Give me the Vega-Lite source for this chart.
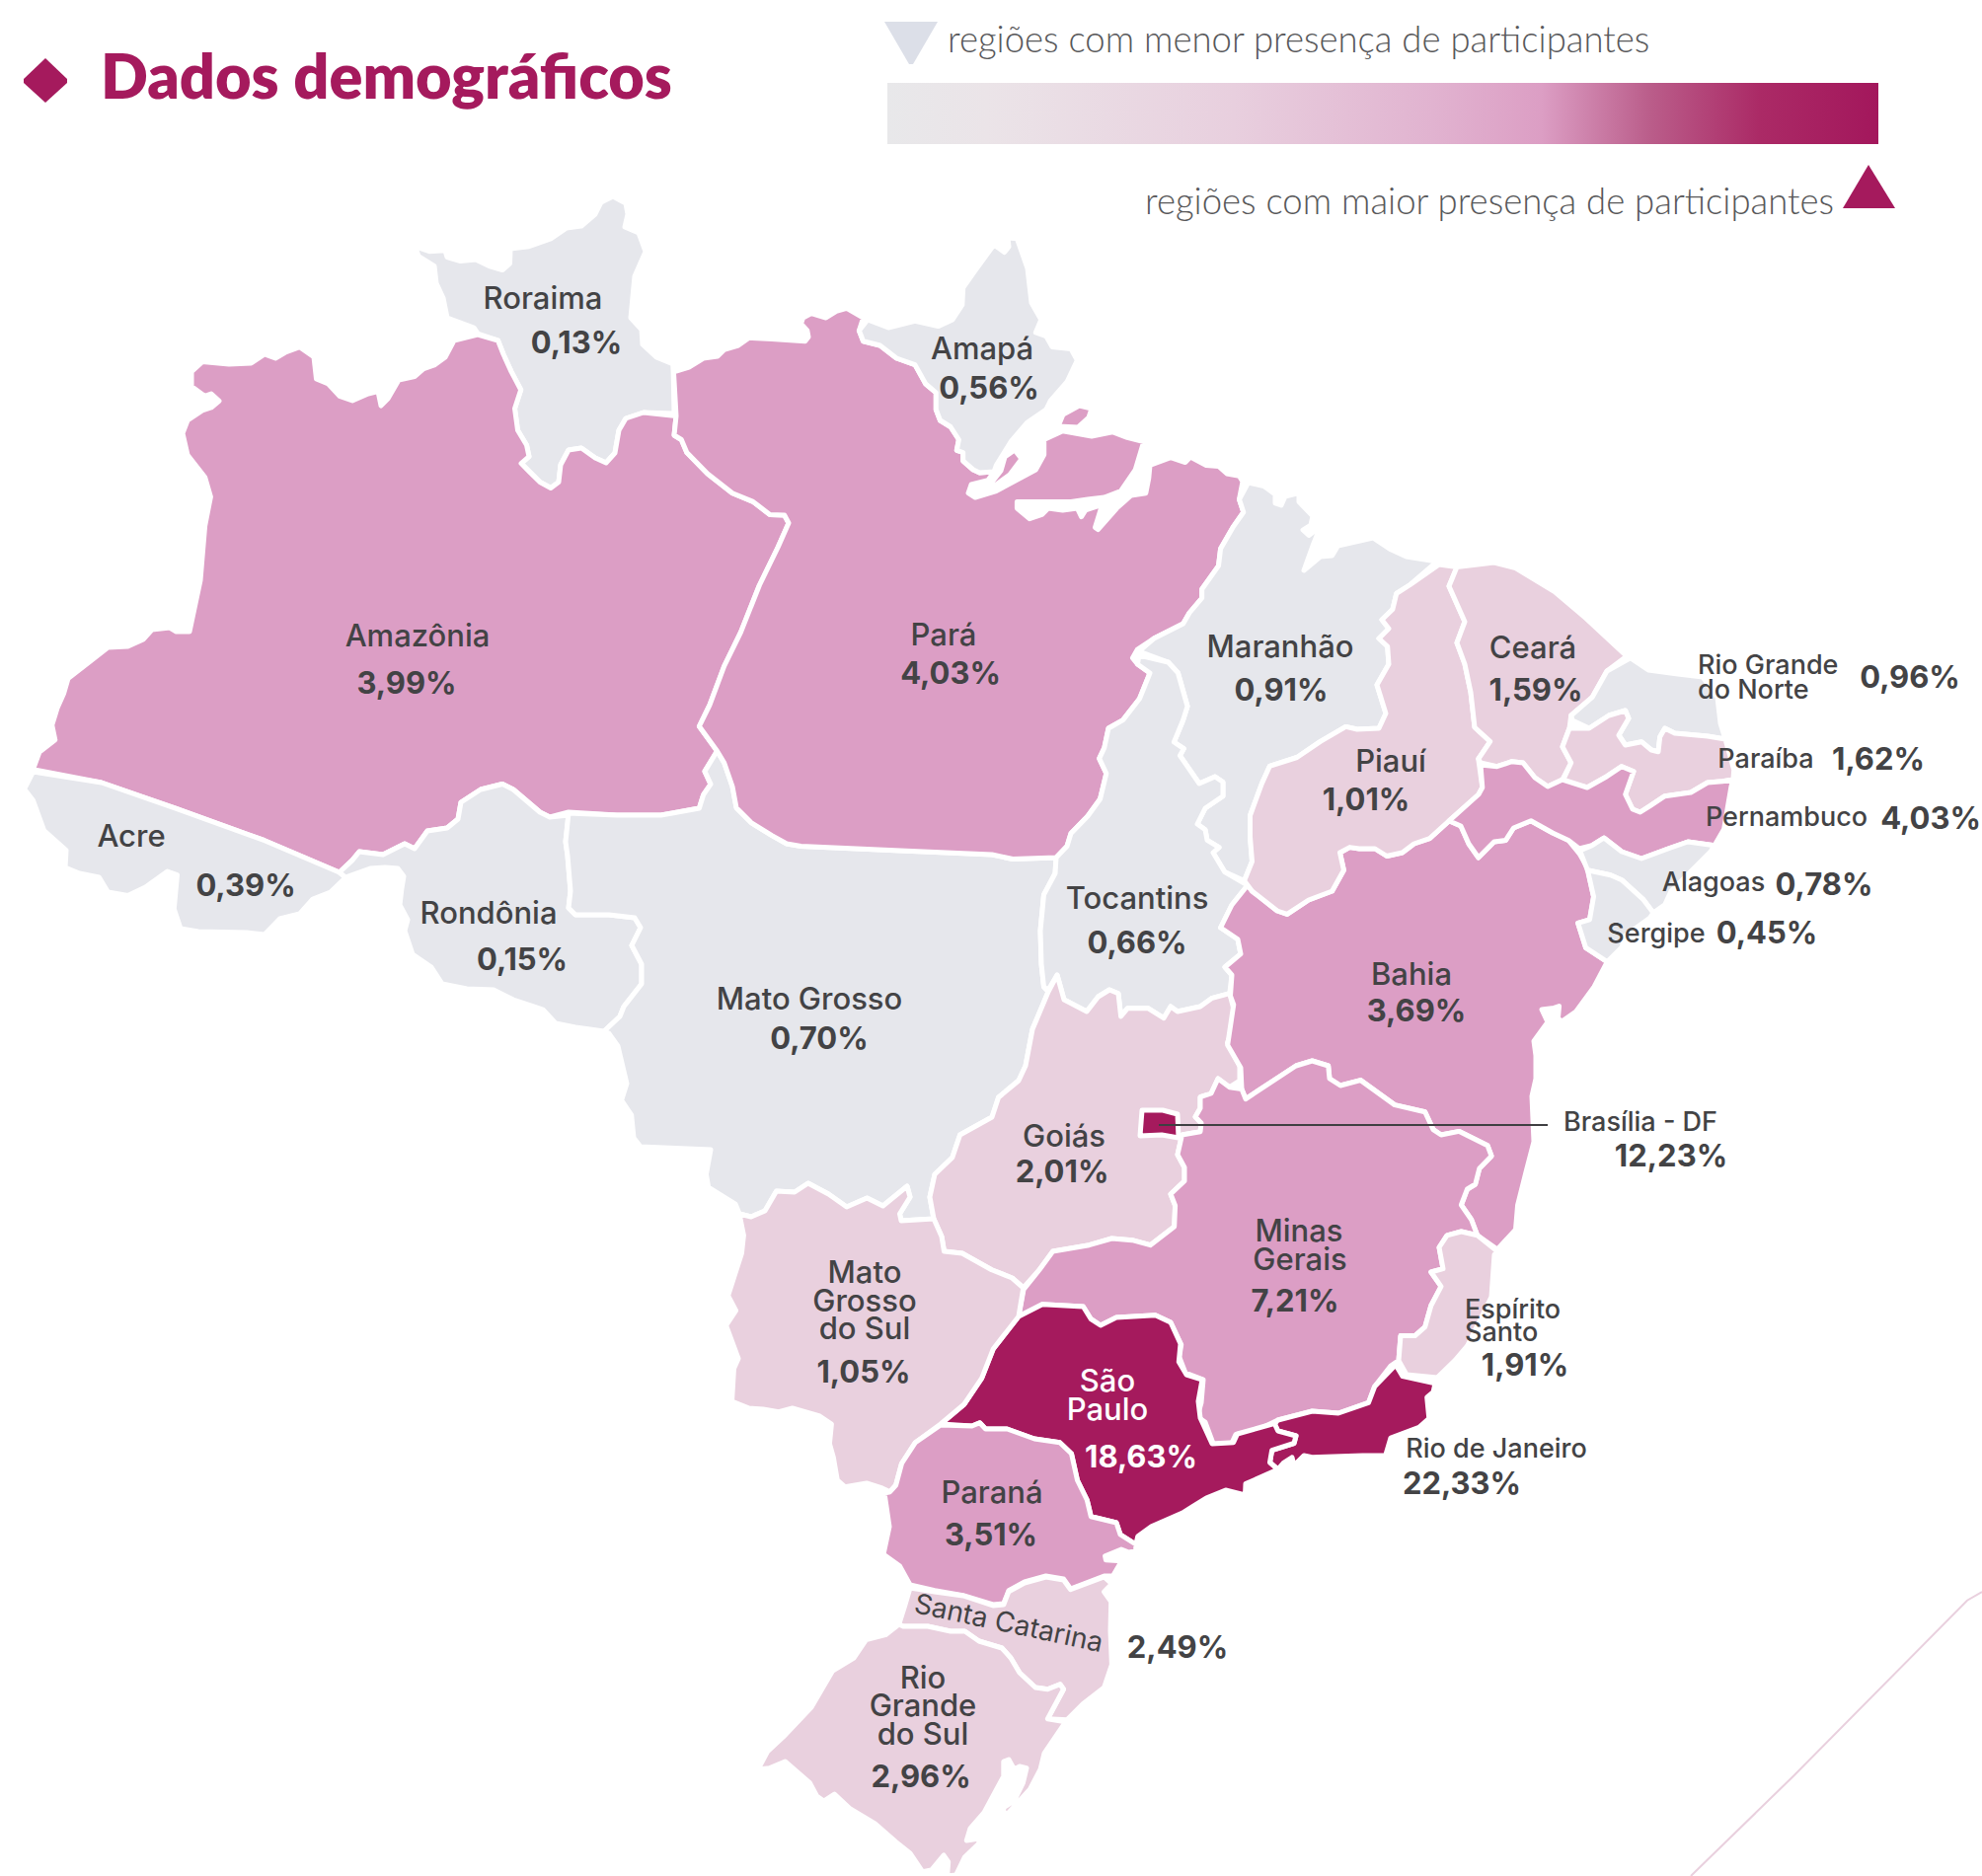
{"$schema":"https://vega.github.io/schema/vega-lite/v6.json","width":2008,"height":1901,"padding":0,"autosize":"none","background":"white","config":{"view":{"stroke":null}},"projection":{"type":"identity","scale":1,"translate":[0,0]},
"datasets":{
"names":[{"t":"Roraima","lon":550,"lat":313,"tone":"dark","kind":"large"},{"t":"Amazônia","lon":423,"lat":655,"tone":"dark","kind":"large"},{"t":"Acre","lon":133,"lat":858,"tone":"dark","kind":"large"},{"t":"Rondônia","lon":495,"lat":936,"tone":"dark","kind":"large"},{"t":"Amapá","lon":995,"lat":364,"tone":"dark","kind":"large"},{"t":"Pará","lon":956,"lat":654,"tone":"dark","kind":"large"},{"t":"Maranhão","lon":1297,"lat":666,"tone":"dark","kind":"large"},{"t":"Ceará","lon":1553,"lat":667,"tone":"dark","kind":"large"},{"t":"Piauí","lon":1409,"lat":782,"tone":"dark","kind":"large"},{"t":"Bahia","lon":1430,"lat":998,"tone":"dark","kind":"large"},{"t":"Tocantins","lon":1152,"lat":921,"tone":"dark","kind":"large"},{"t":"Mato Grosso","lon":820,"lat":1023,"tone":"dark","kind":"large"},{"t":"Goiás","lon":1078,"lat":1162,"tone":"dark","kind":"large"},{"t":"Mato","lon":876,"lat":1300,"tone":"dark","kind":"large"},{"t":"Grosso","lon":876,"lat":1329,"tone":"dark","kind":"large"},{"t":"do Sul","lon":876,"lat":1357,"tone":"dark","kind":"large"},{"t":"Minas","lon":1316,"lat":1258,"tone":"dark","kind":"large"},{"t":"Gerais","lon":1317,"lat":1287,"tone":"dark","kind":"large"},{"t":"São","lon":1122,"lat":1410,"tone":"light","kind":"large"},{"t":"Paulo","lon":1122,"lat":1439,"tone":"light","kind":"large"},{"t":"Paraná","lon":1005,"lat":1523,"tone":"dark","kind":"large"},{"t":"Rio","lon":935,"lat":1711,"tone":"dark","kind":"large"},{"t":"Grande","lon":935,"lat":1739,"tone":"dark","kind":"large"},{"t":"do Sul","lon":935,"lat":1768,"tone":"dark","kind":"large"},{"t":"Paraíba","lon":1789,"lat":778,"tone":"dark","kind":"small"},{"t":"Pernambuco","lon":1810,"lat":837,"tone":"dark","kind":"small"},{"t":"Alagoas","lon":1736,"lat":903,"tone":"dark","kind":"small"},{"t":"Sergipe","lon":1678,"lat":955,"tone":"dark","kind":"small"},{"t":"Brasília - DF","lon":1662,"lat":1146,"tone":"dark","kind":"small"},{"t":"Rio de Janeiro","lon":1516,"lat":1477,"tone":"dark","kind":"small"}],
"leftNames":[{"t":"Rio Grande","lon":1720,"lat":683},{"t":"do Norte","lon":1720,"lat":708},{"t":"Espírito","lon":1484,"lat":1336},{"t":"Santo","lon":1484,"lat":1359}],
"tilted":[{"t":"Santa Catarina","lon":1020,"lat":1654}],
"percents":[{"t":"0,13%","lon":584,"lat":358,"tone":"dark"},{"t":"3,99%","lon":412,"lat":703,"tone":"dark"},{"t":"0,39%","lon":249,"lat":908,"tone":"dark"},{"t":"0,15%","lon":529,"lat":983,"tone":"dark"},{"t":"0,56%","lon":1002,"lat":404,"tone":"dark"},{"t":"4,03%","lon":963,"lat":693,"tone":"dark"},{"t":"0,91%","lon":1298,"lat":710,"tone":"dark"},{"t":"1,59%","lon":1556,"lat":710,"tone":"dark"},{"t":"1,01%","lon":1384,"lat":821,"tone":"dark"},{"t":"0,66%","lon":1152,"lat":966,"tone":"dark"},{"t":"0,70%","lon":830,"lat":1063,"tone":"dark"},{"t":"2,01%","lon":1076,"lat":1198,"tone":"dark"},{"t":"1,05%","lon":875,"lat":1401,"tone":"dark"},{"t":"18,63%","lon":1156,"lat":1487,"tone":"light"},{"t":"3,51%","lon":1004,"lat":1566,"tone":"dark"},{"t":"3,69%","lon":1435,"lat":1035,"tone":"dark"},{"t":"7,21%","lon":1312,"lat":1329,"tone":"dark"},{"t":"12,23%","lon":1693,"lat":1182,"tone":"dark"},{"t":"1,91%","lon":1545,"lat":1394,"tone":"dark"},{"t":"22,33%","lon":1481,"lat":1514,"tone":"dark"},{"t":"2,49%","lon":1193,"lat":1680,"tone":"dark"},{"t":"2,96%","lon":933,"lat":1811,"tone":"dark"},{"t":"0,96%","lon":1935,"lat":697,"tone":"dark"},{"t":"1,62%","lon":1903,"lat":780,"tone":"dark"},{"t":"4,03%","lon":1956,"lat":840,"tone":"dark"},{"t":"0,78%","lon":1848,"lat":907,"tone":"dark"},{"t":"0,45%","lon":1790,"lat":956,"tone":"dark"}]
},
"layer":[
{"data":{"values":[{"type":"Feature","properties":{"part":"legenda"},"geometry":{"type":"Polygon","coordinates":[[[899,84],[1903,84],[1903,146],[899,146],[899,84]]]}}]},"mark":{"type":"geoshape","strokeWidth":0,"fill":{"gradient":"linear","x1":0,"x2":1,"y1":0,"y2":0,"stops":[{"offset":0,"color":"#e8e8ea"},{"offset":0.1,"color":"#ebe4e8"},{"offset":0.35,"color":"#e8cfde"},{"offset":0.55,"color":"#e1b3d0"},{"offset":0.66,"color":"#dc9ec4"},{"offset":0.77,"color":"#ba5d8a"},{"offset":0.88,"color":"#ab2a66"},{"offset":1,"color":"#a3175c"}]}},"encoding":{}},
{"data":{"values":[
{"type":"Feature","properties":{"part":"menor"},"geometry":{"type":"Polygon","coordinates":[[[896,22],[950,22],[925,65],[921,65],[896,22]]]}},
{"type":"Feature","properties":{"part":"maior"},"geometry":{"type":"Polygon","coordinates":[[[1893,167],[1920,211],[1867,211],[1893,167]]]}},
{"type":"Feature","properties":{"part":"titulo"},"geometry":{"type":"Polygon","coordinates":[[[46,59],[68,80],[68,84],[46,104],[24,84],[24,80],[46,59]]]}}
]},"mark":{"type":"geoshape","strokeWidth":0},"encoding":{"color":{"field":"properties.part","type":"nominal","legend":null,"scale":{"domain":["menor","maior","titulo"],"range":["#dcdfe8","#a51a5d","#a51a5d"]}}}},
{"data":{"values":[{"type":"Feature","properties":{"part":"detalhe"},"geometry":{"type":"LineString","coordinates":[[2008,1613],[1993,1621.7],[1816.7,1800],[1713,1901]]}}]},"mark":{"type":"geoshape","filled":false,"stroke":"#e9d0de","strokeWidth":2},"encoding":{}},
{"data":{"values":[
{"type":"Feature","properties":{"state":"Roraima","percent":0.13},"geometry":{"type":"Polygon","coordinates":[[[420.5,249.7],[435,254.7],[451,253.7],[453,260.6],[466.5,264.6],[482,263],[495.5,269.6],[509,273.6],[516.5,267],[517,252],[536,249.7],[558,242],[574,231],[589,229],[603,217],[609,205],[621,199],[634,206],[636,217],[633,230],[647,236],[654,255],[643,280],[639,322],[650,334],[651,349],[665,362],[682,369],[683,419],[652,418],[634,424],[627,436],[623,459],[614,469],[603,464],[589,454],[576,456],[568,471],[566,488.5],[558,494.5],[547,488.5],[536,477.6],[528,469.6],[536,462.6],[533.5,451],[524.5,436],[521.5,414],[527.7,395],[518,376.6],[510,359],[504.5,345],[484,338],[480,332],[453,322],[449,302],[442,287],[440,269.6],[424,259.6],[420.5,249.7]]]}},
{"type":"Feature","properties":{"state":"Amazonas","percent":3.99},"geometry":{"type":"Polygon","coordinates":[[[484,339],[460,345],[451,362],[440,370],[428.6,374],[420,381.5],[404,385],[393,404],[386,411],[383,396.5],[373,399],[357,406],[344,401.4],[332.6,389],[320.5,384],[318,361.6],[303.6,351.7],[290,356.7],[279,363],[268,359],[254.5,368],[232,369],[205,366.6],[194,376.6],[194,391.5],[207.6,401.4],[214,399],[222,406.4],[214,413],[205,416],[190,426],[185,439],[190,461],[207.6,483.5],[213.4,503.4],[207.6,533],[203,588],[192,640],[178.6,640],[172,636],[154,638],[145,648],[129.5,655],[109.4,656],[91.5,670],[69,687.5],[64.7,702.4],[58,717.4],[52.7,734.8],[55.8,749.7],[40,762],[33.5,779.6],[102.7,793],[178.6,819.4],[268,851.7],[343.8,884],[357,871.6],[364,863],[388,866],[410,855],[420,860],[433,842],[453,839],[464,830],[467,813],[487,800],[509,794.5],[520,800],[547,823],[557,828],[576,823],[625,826],[669.6,826],[681,824],[708.4,819],[712.6,805.4],[720,794.6],[714,781.6],[726.5,761],[708.4,736],[719,714.4],[733.7,675],[750.5,640.6],[769.4,593],[788.4,554],[799,530],[794.7,522],[780,521.4],[763,508.4],[742,499.7],[716.8,480],[695.8,458.5],[690.3,445.5],[683,441],[685,421.6],[652,418],[634,424],[627,436],[623,459],[614,469],[603,464],[589,454],[576,456],[568,471],[566,488.5],[558,494.5],[547,488.5],[536,477.6],[528,469.6],[536,462.6],[533.5,451],[524.5,436],[521.5,414],[527.7,395],[518,376.6],[510,359],[504.5,345],[484,339]]]}},
{"type":"Feature","properties":{"state":"Acre","percent":0.39},"geometry":{"type":"Polygon","coordinates":[[[33.5,782],[24.6,799.5],[33.5,811],[44.6,841.7],[67,861.6],[66,879],[80.4,885],[100.4,889],[109.4,904],[129.5,907.4],[147.3,899],[169.6,883],[179.5,886.5],[176.3,921],[183,941],[201,944],[250,945],[268,947],[283.5,931],[303.6,926],[317,911],[334.8,904],[350.4,889],[343.8,884],[268,851.7],[178.6,819.4],[102.7,793],[33.5,782]]]}},
{"type":"Feature","properties":{"state":"Rondônia","percent":0.15},"geometry":{"type":"Polygon","coordinates":[[[350,889],[375,880],[390,879],[403,880],[409,888],[407,900],[405,917],[413,932],[410,943],[418,967],[437,980],[448,997],[473,1002],[500,1003],[520,1013],[550,1023],[563,1037],[583,1041],[612,1045],[628,1030],[632,1020],[650,997],[650,977],[640,958],[649,940],[643,930],[617,927],[583,927],[576,920],[578,903],[575,867],[573,853],[576,826],[557,828],[547,823],[520,800],[509,794.5],[487,800],[467,813],[464,830],[453,839],[433,842],[420,860],[410,855],[388,866],[364,863],[357,871.6],[343.8,884],[350,889]]]}},
{"type":"Feature","properties":{"state":"Mato Grosso","percent":0.70},"geometry":{"type":"Polygon","coordinates":[[[576,824],[625,826],[669.6,826],[681,824],[708.4,819],[712.6,805.4],[720,794.6],[714,781.6],[726.5,761],[733.7,773],[742,797],[746,818.4],[761,833.6],[782,846.6],[797,855],[811.5,857.5],[912.5,862],[1005,866],[1026,870.5],[1070,869],[1069,885],[1057.5,906.7],[1054,943],[1055,977],[1057.5,1000],[1062,1005],[1046,1043],[1039,1080],[1032,1095],[1011.6,1112],[1005,1132],[972.6,1150],[964.8,1173],[947,1190],[942,1213],[946,1235],[913,1237],[911.5,1230],[922,1213],[919,1202],[894.5,1222],[878.4,1214],[857.8,1223],[839.4,1210],[818.7,1199],[805,1208],[786.6,1207],[775,1227],[761,1233],[749,1230],[745,1220],[717.7,1203],[715.4,1190],[720,1165],[649,1162],[642,1153],[639.7,1130],[629.6,1115],[635,1098],[626,1060],[616.7,1047],[612,1045],[628,1030],[632,1020],[650,997],[650,977],[640,958],[649,940],[643,930],[617,927],[583,927],[576,920],[578,903],[575,867],[573,853],[576,824]]]}},
{"type":"Feature","properties":{"state":"Pará","percent":4.03},"geometry":{"type":"MultiPolygon","coordinates":[[[[682,369],[685,376],[698,372],[712.6,363],[727,361],[733.6,354.4],[748,350],[759,342.3],[782,343.6],[815.7,345.8],[819,341.4],[817.8,335],[811.5,328],[813.6,322],[822,317.6],[836.8,322],[847.3,315.4],[857.8,312.4],[874.6,322],[870.4,335],[874.6,345.8],[891.5,350],[908.3,363],[927,369.6],[937.8,389],[948.3,397.8],[948.3,415],[952.5,426],[963,432.5],[971.4,445.5],[969.3,456.3],[975.7,458.5],[975.7,467],[986,476],[992.5,479],[1007,478],[1001,486.7],[984,491],[981,499.7],[988,504],[1009.3,497.5],[1049.3,476],[1057.7,460.7],[1057.7,445.5],[1076.7,436.8],[1106,442],[1127,437.7],[1142,443.3],[1158.7,447.7],[1150.3,475.8],[1135.6,497.5],[1118.8,504],[1102,506],[1085,508.4],[1064,508.4],[1030.4,508.4],[1030.4,515],[1043,525.7],[1055.6,521.4],[1062,515],[1076.7,517],[1091.4,515],[1095.6,523.6],[1099.8,517],[1116.6,511.4],[1109.5,534.4],[1112.4,536.6],[1131.4,515],[1146,502],[1160.8,499.7],[1163.8,484.5],[1165,471.5],[1186,463.7],[1200.8,468.5],[1206,463],[1222,471.5],[1234.5,472.4],[1243,480],[1255.5,482.4],[1259,488],[1255.5,506],[1259.8,519],[1249,534.4],[1236.6,556],[1234.5,573.4],[1217.7,597],[1217.7,606],[1205,621],[1198.7,632],[1169,647],[1152.4,658],[1147.4,666.7],[1152.4,673],[1165,682],[1154.5,708],[1137.7,729.6],[1123,738],[1118.8,757.7],[1113.7,768.6],[1120.8,783.8],[1114.5,809.8],[1102,827],[1085,844.5],[1081,857.5],[1070,869],[1026,870.5],[1005,866],[912.5,862],[811.5,857.5],[797,855],[782,846.6],[761,833.6],[746,818.4],[742,797],[733.7,773],[726.5,761],[708.4,736],[719,714.4],[733.7,675],[750.5,640.6],[769.4,593],[788.4,554],[799,530],[794.7,522],[780,521.4],[763,508.4],[742,499.7],[716.8,480],[695.8,458.5],[690.3,445.5],[683,441],[685,421.6],[682,369]]],[[[1072,432],[1077,420],[1093.5,411],[1106,414],[1103,423],[1092,433],[1072,432]]],[[[1003,491],[1014,477],[1018,463],[1028,456],[1035,465],[1023,481],[1008,492],[1003,491]]]]}},
{"type":"Feature","properties":{"state":"Amapá","percent":0.56},"geometry":{"type":"Polygon","coordinates":[[[879,324],[900,332],[927,325.4],[950.4,330.6],[965,324],[974.8,309],[975.7,291.6],[988,274],[1007,248],[1017.7,255.6],[1022,250],[1021,241],[1030.4,241.7],[1041,272],[1045,306.7],[1054.8,324],[1049.3,337],[1059.8,340.6],[1066,351.4],[1085,353.6],[1091.4,365],[1081,387],[1064,406.5],[1059.8,415],[1040.9,428],[1024,447.7],[1009.3,471.5],[1007,478],[992.5,479],[986,476],[975.7,467],[975.7,458.5],[969.3,456.3],[971.4,445.5],[963,432.5],[952.5,426],[948.3,415],[948.3,397.8],[937.8,389],[927,369.6],[908.3,363],[891.5,350],[874.6,345.8],[870.4,335],[879,324]]]}},
{"type":"Feature","properties":{"state":"Maranhão","percent":0.91},"geometry":{"type":"Polygon","coordinates":[[[1264.6,489],[1280.4,492.5],[1292,501],[1292,510],[1298,512],[1302,503],[1316,499.6],[1316,508.6],[1330,523],[1328,532],[1320,537],[1326,542.5],[1337.7,533.6],[1330,553],[1321,578],[1337.7,564],[1349.6,563],[1355.5,553],[1391,545],[1409,556.8],[1424.7,564],[1456,569],[1428.7,592.5],[1414.8,601.4],[1410.9,617.5],[1400,628],[1407,637],[1397,647],[1405.7,655],[1407,673],[1395,694],[1404,723],[1397,738],[1375,739],[1363.4,736.4],[1337.7,751.4],[1314,767.5],[1286.3,776.4],[1278.4,794],[1266.5,826.4],[1266.5,848],[1268.5,873],[1260.6,892.5],[1240.8,883.6],[1229,864],[1235,858.6],[1223,851.4],[1221,840.7],[1213,835],[1221,819],[1239,806.8],[1239,792.5],[1231,787],[1215,794],[1195.4,765.7],[1199.3,758.6],[1189.4,752],[1198.5,730],[1203,715.7],[1193.4,681.8],[1183.5,671],[1153.8,660],[1169,647],[1198.7,632],[1205,621],[1217.7,606],[1217.7,597],[1234.5,573.4],[1236.6,556],[1249,534.4],[1259.8,519],[1255.5,506],[1264.6,489]]]}},
{"type":"Feature","properties":{"state":"Tocantins","percent":0.66},"geometry":{"type":"Polygon","coordinates":[[[1154,664],[1183.5,671],[1193.4,681.8],[1203,715.7],[1198.5,730],[1189.4,752],[1199.3,758.6],[1195.4,765.7],[1215,794],[1231,787],[1239,792.5],[1239,806.8],[1221,819],[1213,835],[1221,840.7],[1223,851.4],[1235,858.6],[1229,864],[1240.8,883.6],[1264,897],[1248,917],[1236.6,940],[1254,951.7],[1257,966.7],[1241,980],[1248,988],[1245.8,1006.7],[1227.4,1011.7],[1216,1020],[1193,1025],[1186,1020],[1179,1031.7],[1163,1021.7],[1142.4,1021.7],[1135.6,1030],[1133,1006.7],[1124,1003],[1112.6,1010],[1101,1025],[1078,1013],[1071,988],[1062,1003],[1057.5,1000],[1055,977],[1054,943],[1057.5,906.7],[1069,885],[1070,869],[1081,857.5],[1085,844.5],[1102,827],[1114.5,809.8],[1120.8,783.8],[1113.7,768.6],[1118.8,757.7],[1123,738],[1137.7,729.6],[1154.5,708],[1165,682],[1152.4,673],[1154,664]]]}},
{"type":"Feature","properties":{"state":"Goiás","percent":2.01},"geometry":{"type":"Polygon","coordinates":[[[1062,1005],[1071,988],[1078,1013],[1101,1025],[1112.6,1010],[1124,1003],[1133,1006.7],[1135.6,1030],[1142.4,1021.7],[1163,1021.7],[1179,1031.7],[1186,1020],[1193,1025],[1216,1020],[1227.4,1011.7],[1245.8,1006.7],[1252.6,1033],[1243.5,1056.7],[1256,1080],[1256,1095],[1245.8,1101.7],[1234,1093],[1227,1108],[1216,1111.7],[1216,1123],[1211,1131.7],[1217,1138],[1216,1146.7],[1197.5,1150],[1193,1170],[1200,1183],[1200,1196.7],[1186,1210],[1190.6,1221.7],[1189.7,1243],[1165.4,1261.7],[1147,1256.7],[1126.4,1255],[1103.4,1261.7],[1066.7,1268],[1053,1286.7],[1036.8,1305],[1025.4,1295],[1004.7,1286.7],[974.8,1270],[956.5,1268],[954,1253],[946,1235],[942,1213],[947,1190],[964.8,1173],[972.6,1150],[1005,1132],[1011.6,1112],[1032,1095],[1039,1080],[1046,1043],[1062,1005]]]}},
{"type":"Feature","properties":{"state":"Bahia","percent":3.69},"geometry":{"type":"Polygon","coordinates":[[[1264,897],[1268.5,903],[1294,923],[1304,926.4],[1325.8,912],[1349.6,903],[1361.4,881.8],[1357.5,864],[1367.4,858.6],[1377,860],[1393,860],[1405,867.5],[1420.7,864],[1432.6,855],[1448.4,849.6],[1468,831.8],[1480,837],[1488,855],[1497.8,869],[1513.7,853],[1525.5,851.4],[1533.4,839],[1551,831.8],[1573,844],[1589,851.4],[1600.6,865.7],[1608.6,880],[1610.5,890.7],[1614.5,908.6],[1610.5,931.8],[1598.7,935.4],[1606.6,960.4],[1628.3,974.6],[1615,1000],[1596.7,1025],[1582.4,1035],[1578.4,1032],[1579.6,1019.6],[1574.3,1021.4],[1562,1023],[1568,1035.7],[1554,1055],[1556,1069.6],[1556,1093],[1552,1110.7],[1554,1157],[1545.7,1189],[1537.6,1221],[1535.5,1246],[1517,1266],[1496.7,1251.8],[1490.6,1235.7],[1480.4,1221],[1486.5,1205],[1494.7,1200],[1498.8,1184],[1511,1171.4],[1507,1160.7],[1478.4,1146.4],[1460,1150],[1452,1144.6],[1443.7,1126.8],[1413,1119.6],[1378.4,1094.6],[1358,1100],[1347,1093],[1345.7,1080],[1329.4,1075],[1313,1080],[1262,1113.6],[1258,1103.6],[1257,1082],[1243.7,1059],[1249.8,1018],[1246.5,1009],[1248,988],[1241,980],[1257,966.7],[1254,951.7],[1236.6,940],[1248,917],[1264,897]]]}},
{"type":"Feature","properties":{"state":"Piauí","percent":1.01},"geometry":{"type":"Polygon","coordinates":[[[1458,572],[1476,574.6],[1468,594],[1484,630],[1476,651.4],[1484,673],[1490,701.4],[1494,737],[1509.7,751.4],[1497.8,769],[1501.8,798],[1498,805],[1468,831.8],[1448.4,849.6],[1432.6,855],[1420.7,864],[1405,867.5],[1393,860],[1377,860],[1367.4,858.6],[1357.5,864],[1361.4,881.8],[1349.6,903],[1325.8,912],[1304,926.4],[1294,923],[1268.5,903],[1260.6,892.5],[1268.5,873],[1266.5,848],[1266.5,826.4],[1278.4,794],[1286.3,776.4],[1314,767.5],[1337.7,751.4],[1363.4,736.4],[1375,739],[1397,738],[1404,723],[1395,694],[1407,673],[1405.7,655],[1397,647],[1407,637],[1400,628],[1410.9,617.5],[1414.8,601.4],[1428.7,592.5],[1458,572]]]}},
{"type":"Feature","properties":{"state":"Ceará","percent":1.59},"geometry":{"type":"Polygon","coordinates":[[[1476,574.6],[1513.7,570],[1535.4,575.7],[1575,599.6],[1606.6,626.4],[1648,665],[1628,680],[1613,706.7],[1591.7,725],[1590,738],[1583,756.7],[1591.7,773],[1583,790],[1568,797],[1555,788],[1543,773],[1531.7,771.7],[1516.7,776.7],[1500,773],[1497.8,769],[1509.7,751.4],[1494,737],[1490,701.4],[1484,673],[1476,651.4],[1484,630],[1468,594],[1476,574.6]]]}},
{"type":"Feature","properties":{"state":"Rio Grande do Norte","percent":0.96},"geometry":{"type":"Polygon","coordinates":[[[1651.7,666.7],[1670,679],[1700,683],[1725,686],[1740,706.7],[1743,733],[1748,749],[1730,746],[1696.7,743],[1686.7,738],[1681.7,746.7],[1680,761.7],[1673,760],[1663,751.7],[1646.7,755],[1640,745],[1650,728],[1646.7,720],[1630,725],[1610,738],[1593,730],[1591.7,725],[1613,706.7],[1628,680],[1651.7,666.7]]]}},
{"type":"Feature","properties":{"state":"Paraíba","percent":1.62},"geometry":{"type":"Polygon","coordinates":[[[1590,738],[1610,738],[1630,725],[1646.7,720],[1650,728],[1640,745],[1646.7,755],[1663,751.7],[1673,760],[1680,761.7],[1681.7,746.7],[1686.7,738],[1696.7,743],[1730,746],[1748,749],[1756.7,780],[1756,790],[1745,791.7],[1730,793],[1713,803],[1686.7,806.7],[1671.7,816.7],[1661.7,823],[1654,820],[1646.7,805],[1655,781.7],[1643,776.7],[1628,786.7],[1608,798],[1583,791.7],[1591.7,773],[1583,756.7],[1590,738]]]}},
{"type":"Feature","properties":{"state":"Pernambuco","percent":4.03},"geometry":{"type":"Polygon","coordinates":[[[1500,775],[1516.7,776.7],[1531.7,771.7],[1543,773],[1555,788],[1568,797],[1583,790],[1608,798],[1628,786.7],[1643,776.7],[1655,781.7],[1646.7,805],[1654,820],[1661.7,823],[1671.7,816.7],[1686.7,806.7],[1713,803],[1730,793],[1745,791.7],[1756,790],[1754,796.7],[1750,820],[1746.7,840],[1737,856.7],[1710,853],[1690,860],[1663,870],[1643,863],[1625,849],[1613,856.7],[1600,860],[1589,851.4],[1573,844],[1551,831.8],[1533.4,839],[1525.5,851.4],[1513.7,853],[1497.8,869],[1488,855],[1480,837],[1468,831.8],[1498,805],[1501.8,798],[1500,775]]]}},
{"type":"Feature","properties":{"state":"Alagoas","percent":0.78},"geometry":{"type":"Polygon","coordinates":[[[1600.6,862],[1613,856.7],[1625,849],[1643,863],[1663,870],[1690,860],[1710,853],[1737,856.7],[1733,863],[1713,883],[1693,903],[1686.7,916.7],[1675,925],[1665,911.7],[1643,891.7],[1631.7,886.7],[1608.3,881.7],[1600.6,862]]]}},
{"type":"Feature","properties":{"state":"Sergipe","percent":0.45},"geometry":{"type":"Polygon","coordinates":[[[1608.3,881.7],[1631.7,886.7],[1643,891.7],[1665,911.7],[1675,925],[1671.7,930],[1646.7,948],[1643,960],[1628.3,974.6],[1606.6,960.4],[1598.7,935.4],[1610.5,931.8],[1614.5,908.6],[1610.5,890.7],[1608.3,881.7]]]}},
{"type":"Feature","properties":{"state":"Minas Gerais","percent":7.21},"geometry":{"type":"Polygon","coordinates":[[[1258,1103.6],[1262,1113.6],[1313,1080],[1329.4,1075],[1345.7,1080],[1347,1093],[1358,1100],[1378.4,1094.6],[1413,1119.6],[1443.7,1126.8],[1452,1144.6],[1460,1150],[1478.4,1146.4],[1507,1160.7],[1511,1171.4],[1498.8,1184],[1494.7,1200],[1486.5,1205],[1480.4,1221],[1490.6,1235.7],[1496.7,1251.8],[1480.4,1248],[1466,1251.8],[1458,1264],[1462,1285.7],[1449.8,1289],[1460,1303.6],[1449.8,1323],[1443.7,1344.6],[1433.5,1353.6],[1419,1353.6],[1417,1378.6],[1409,1384],[1392.7,1405],[1386.5,1421.4],[1356,1432],[1329.4,1430],[1294.7,1439],[1266,1453],[1252,1453.6],[1247.8,1462.5],[1229.4,1463.6],[1221,1441],[1213,1435.7],[1217,1421.4],[1219,1398],[1200.8,1391],[1194.7,1375],[1196.7,1362.5],[1186,1340],[1170.5,1332.7],[1131,1335],[1115,1343],[1105.3,1336.7],[1097.4,1324],[1056,1321.7],[1032,1334],[1037,1306.7],[1053,1286.7],[1066.7,1268],[1103.4,1261.7],[1126.4,1255],[1147,1256.7],[1165.4,1261.7],[1189.7,1243],[1190.6,1221.7],[1186,1210],[1200,1196.7],[1200,1183],[1193,1170],[1197.5,1150],[1216,1146.7],[1217,1138],[1211,1131.7],[1216,1123],[1216,1111.7],[1227,1108],[1234,1093],[1245.8,1101.7],[1258,1103.6]]]}},
{"type":"Feature","properties":{"state":"Espírito Santo","percent":1.91},"geometry":{"type":"Polygon","coordinates":[[[1480.4,1248],[1496.7,1251.8],[1517,1268],[1514,1271.4],[1511,1314],[1486.5,1364],[1474,1378.6],[1456,1396],[1425,1393],[1417,1378.6],[1419,1353.6],[1433.5,1353.6],[1443.7,1344.6],[1449.8,1323],[1460,1303.6],[1449.8,1289],[1462,1285.7],[1458,1264],[1466,1251.8],[1480.4,1248]]]}},
{"type":"Feature","properties":{"state":"Rio de Janeiro","percent":22.33},"geometry":{"type":"Polygon","coordinates":[[[1414,1383],[1421,1394.6],[1454,1401.8],[1452,1410.7],[1445.7,1416],[1447.8,1437.5],[1437.6,1446.4],[1409,1457],[1403.7,1475],[1380.4,1475],[1329.4,1476.8],[1321,1475],[1311,1485],[1309,1476.8],[1300.8,1482],[1294.7,1489],[1286.5,1482],[1288.6,1469.6],[1311,1462.5],[1313,1455],[1294.7,1450],[1291.4,1443],[1294.7,1439],[1329.4,1430],[1356,1432],[1386.5,1421.4],[1392.7,1405],[1414,1383]]]}},
{"type":"Feature","properties":{"state":"São Paulo","percent":18.63},"geometry":{"type":"Polygon","coordinates":[[[1032,1334],[1056,1321.7],[1097.4,1324],[1105.3,1336.7],[1115,1343],[1131,1335],[1170.5,1332.7],[1186,1340],[1196,1361.7],[1194.3,1380],[1202,1393],[1218,1398],[1214,1420],[1216,1436.7],[1228,1463],[1249.6,1461.7],[1253.6,1453],[1289,1443],[1291.4,1443],[1294.7,1450],[1313,1455],[1311,1462.5],[1288.6,1469.6],[1286.5,1482],[1294.7,1489],[1262,1503.6],[1261.5,1515],[1241.7,1510],[1222,1518],[1198,1533],[1166.6,1546.7],[1152.8,1556.7],[1150.8,1565],[1135,1555],[1131,1543],[1105.3,1536.7],[1101.3,1520],[1091.5,1500],[1085.5,1473],[1073.7,1461.7],[1048,1458],[1020.3,1448],[998.5,1448],[992.6,1441.7],[984.7,1445],[953,1443],[976.8,1423],[994.6,1396.7],[1006.4,1366.7],[1032,1334]]]}},
{"type":"Feature","properties":{"state":"Mato Grosso do Sul","percent":1.05},"geometry":{"type":"Polygon","coordinates":[[[749,1230],[761,1233],[775,1227],[786.6,1207],[805,1208],[818.7,1199],[839.4,1210],[857.8,1223],[878.4,1214],[894.5,1222],[919,1202],[922,1213],[911.5,1230],[913,1237],[946,1235],[954,1253],[956.5,1268],[974.8,1270],[1004.7,1286.7],[1025.4,1295],[1036.8,1305],[1032,1334],[1006.4,1366.7],[994.6,1396.7],[976.8,1423],[953,1443],[927.4,1461.7],[913.5,1483],[907.6,1505],[901.7,1511.7],[893.7,1508],[878,1503],[856,1506.7],[848.3,1500],[844.3,1476.7],[840.4,1463],[842.4,1443],[830.5,1435],[802.8,1427],[789,1430.7],[773,1428],[759,1427],[741.5,1420],[743.5,1386.7],[748,1376.7],[735.6,1343],[745.5,1328],[737.6,1313],[751.4,1270],[753.4,1251.7],[749,1230]]]}},
{"type":"Feature","properties":{"state":"Paraná","percent":3.51},"geometry":{"type":"Polygon","coordinates":[[[953,1444],[984.7,1445],[992.6,1441.7],[998.5,1448],[1020.3,1448],[1048,1458],[1073.7,1461.7],[1085.5,1473],[1091.5,1500],[1101.3,1520],[1105.3,1536.7],[1131,1543],[1135,1555],[1150.8,1565],[1150.7,1571.7],[1143.6,1573],[1136,1570],[1119.6,1576.7],[1120.4,1580.7],[1136.4,1581.7],[1127.5,1597],[1118.6,1597],[1084.6,1610],[1077.5,1600],[1059.6,1597],[1038,1603],[1022,1611.7],[1016.8,1625],[1006,1626],[975.7,1616.7],[947,1611.7],[922,1606],[911.4,1586.7],[895,1575],[901,1547],[896,1513],[901.7,1511.7],[907.6,1505],[913.5,1483],[927.4,1461.7],[953,1444]]]}},
{"type":"Feature","properties":{"state":"Santa Catarina","percent":2.49},"geometry":{"type":"Polygon","coordinates":[[[922,1609],[947,1613],[975.7,1617],[1006,1627],[1016.8,1626],[1022,1612.7],[1038,1604],[1059.6,1598],[1077.5,1601],[1084.6,1610.7],[1118.6,1598],[1126.4,1605],[1118.6,1613],[1125.7,1623],[1125,1653],[1126.4,1686.7],[1118.6,1710],[1097,1726.7],[1081,1742.7],[1061.4,1741.7],[1077.5,1711.7],[1074,1706.7],[1061.4,1711.7],[1049,1710],[1032.9,1695],[1024,1680],[1015,1670],[991.8,1663],[977.5,1653],[963,1653],[940,1648],[915,1648],[910.7,1646],[916.8,1626.7],[922,1609]]]}},
{"type":"Feature","properties":{"state":"Rio Grande do Sul","percent":2.96},"geometry":{"type":"Polygon","coordinates":[[[910.7,1646],[915,1648],[940,1648],[963,1653],[977.5,1653],[991.8,1663],[1015,1670],[1024,1680],[1032.9,1695],[1049,1710],[1061.4,1711.7],[1074,1706.7],[1077.5,1711.7],[1061.4,1741.7],[1081,1745],[1077.5,1748],[1058,1776.7],[1054,1793],[1043.6,1813],[1022,1836.7],[1016.8,1840],[1016.8,1831.7],[1027.5,1825],[1036.4,1806.7],[1040,1791.7],[1033,1790],[1027.5,1793],[1022,1783],[1016.8,1785],[1016.8,1800],[1006,1820],[997,1836.7],[982.9,1853],[979.3,1865],[991.8,1863],[991.8,1868],[977.5,1881.7],[968.6,1900],[959.6,1901],[960.7,1886.7],[956,1880],[943.6,1895],[934.6,1896.7],[922,1878],[907.9,1866.7],[886.4,1848],[861.4,1833],[845.4,1818],[834.6,1825],[827.5,1820],[820.4,1806.7],[795.4,1785],[779.3,1791.7],[767.9,1793],[777.5,1775],[793.6,1760],[822,1730],[843.6,1693],[865,1680],[877.5,1661.7],[897,1656.7],[910.7,1646]]]}},
{"type":"Feature","properties":{"state":"Brasília - DF","percent":12.23},"geometry":{"type":"Polygon","coordinates":[[[1157,1125],[1178,1125],[1193,1129],[1194,1153],[1177,1150],[1155,1151],[1157,1125]]]}}
]},"mark":{"type":"geoshape","stroke":"white","strokeWidth":5,"strokeJoin":"round"},"encoding":{"color":{"field":"properties.percent","type":"quantitative","legend":null,"scale":{"type":"threshold","domain":[1,3,10],"range":["#e6e7ec","#e9d0de","#dc9ec5","#a51a5d"]}}}},
{"data":{"values":[{"type":"Feature","properties":{"part":"guia"},"geometry":{"type":"LineString","coordinates":[[1174,1140],[1568,1140]]}}]},"mark":{"type":"geoshape","filled":false,"stroke":"#3f3f42","strokeWidth":2},"encoding":{}},
{"data":{"values":[{"t":"Dados demográficos","lon":102,"lat":100}]},"mark":{"type":"text","align":"left","baseline":"alphabetic","font":"Lato","fontWeight":800,"fontSize":63,"color":"#a51a5d"},"encoding":{"longitude":{"field":"lon","type":"quantitative"},"latitude":{"field":"lat","type":"quantitative"},"text":{"field":"t"}}},
{"data":{"values":[{"t":"regiões com menor presença de participantes","lon":960,"lat":53},{"t":"regiões com maior presença de participantes","lon":1160,"lat":217}]},"mark":{"type":"text","align":"left","baseline":"alphabetic","font":"Lato","fontWeight":300,"fontSize":36.5,"color":"#58585a"},"encoding":{"longitude":{"field":"lon","type":"quantitative"},"latitude":{"field":"lat","type":"quantitative"},"text":{"field":"t"}}},
{"data":{"name":"names"},"mark":{"type":"text","align":"center","baseline":"alphabetic","font":"Inter","fontWeight":500},"encoding":{"longitude":{"field":"lon","type":"quantitative"},"latitude":{"field":"lat","type":"quantitative"},"text":{"field":"t"},"size":{"field":"kind","type":"nominal","legend":null,"scale":{"domain":["large","small"],"range":[31,27]}},"color":{"field":"tone","type":"nominal","legend":null,"scale":{"domain":["dark","light"],"range":["#434345","#ffffff"]}}}},
{"data":{"name":"leftNames"},"mark":{"type":"text","align":"left","baseline":"alphabetic","font":"Inter","fontWeight":500,"fontSize":27,"color":"#434345"},"encoding":{"longitude":{"field":"lon","type":"quantitative"},"latitude":{"field":"lat","type":"quantitative"},"text":{"field":"t"}}},
{"data":{"name":"tilted"},"mark":{"type":"text","align":"center","baseline":"alphabetic","font":"Inter","fontWeight":400,"fontSize":28,"angle":12,"color":"#434345"},"encoding":{"longitude":{"field":"lon","type":"quantitative"},"latitude":{"field":"lat","type":"quantitative"},"text":{"field":"t"}}},
{"data":{"name":"percents"},"mark":{"type":"text","align":"center","baseline":"alphabetic","font":"Inter","fontWeight":700,"fontSize":31},"encoding":{"longitude":{"field":"lon","type":"quantitative"},"latitude":{"field":"lat","type":"quantitative"},"text":{"field":"t"},"color":{"field":"tone","type":"nominal","legend":null,"scale":{"domain":["dark","light"],"range":["#434345","#ffffff"]}}}}
]}
